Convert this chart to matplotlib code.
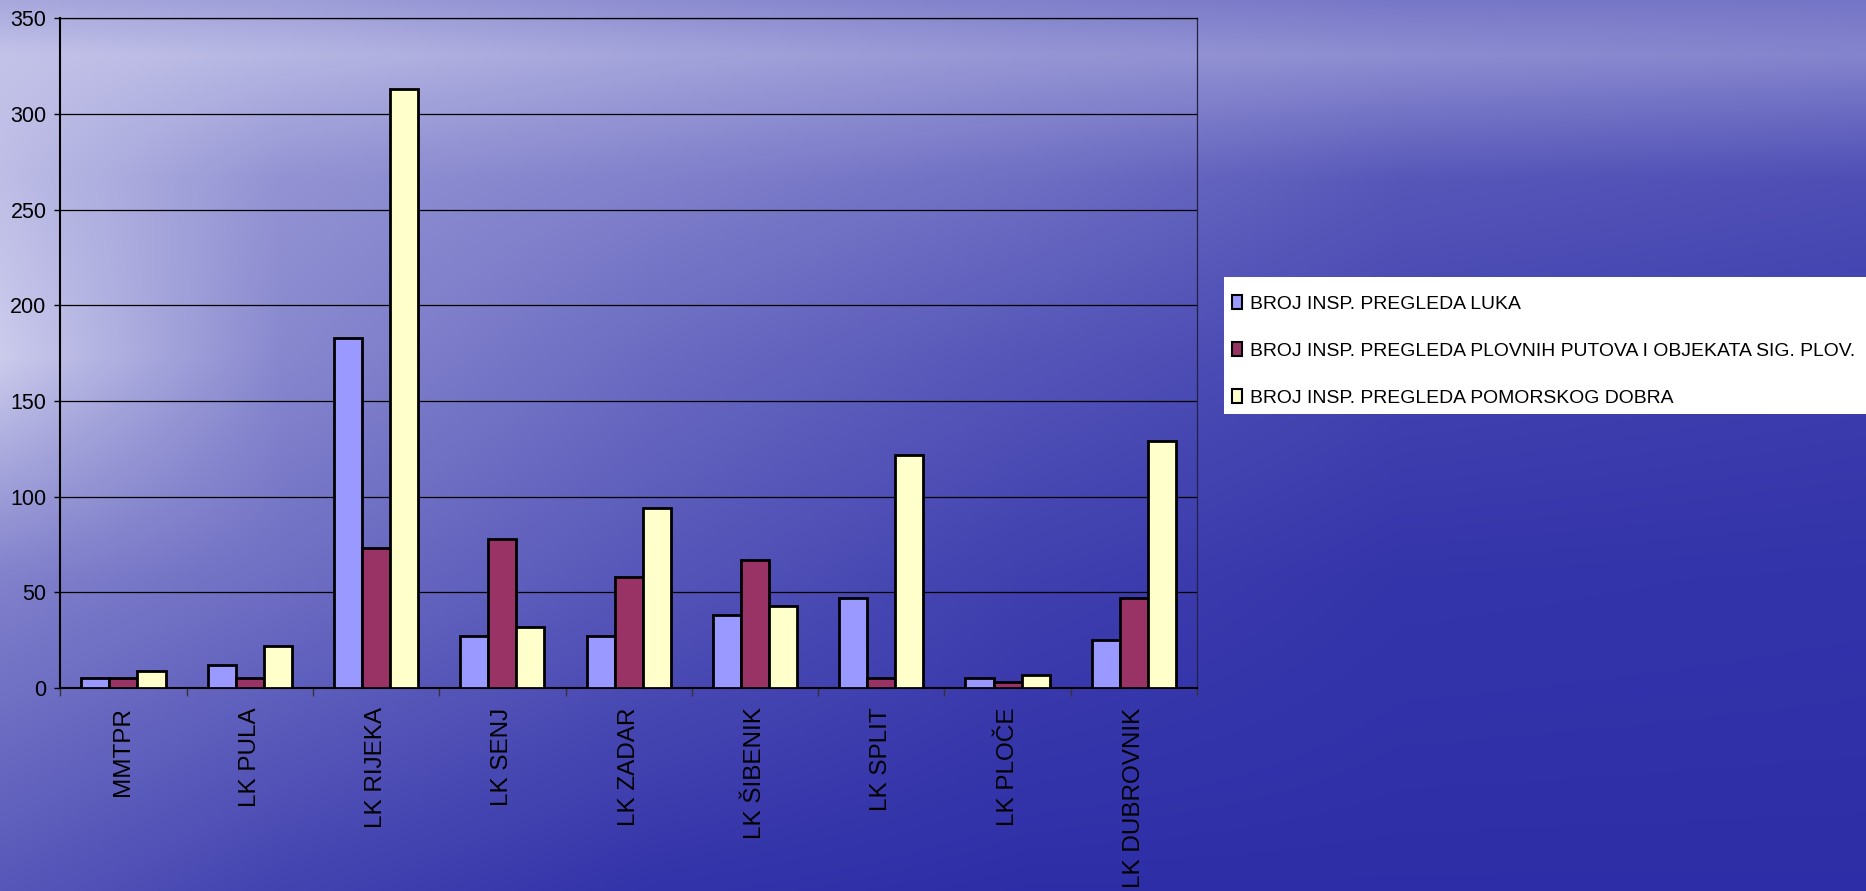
import numpy as np
import matplotlib
matplotlib.use("Agg")
import matplotlib.pyplot as plt
from matplotlib.patches import Patch, Rectangle

categories = ["MMTPR", "LK PULA", "LK RIJEKA", "LK SENJ", "LK ZADAR",
              "LK ŠIBENIK", "LK SPLIT", "LK PLOČE", "LK DUBROVNIK"]
series_names = ["BROJ INSP. PREGLEDA LUKA",
                "BROJ INSP. PREGLEDA PLOVNIH PUTOVA I OBJEKATA SIG. PLOV.",
                "BROJ INSP. PREGLEDA POMORSKOG DOBRA"]
luka = [5, 12, 183, 27, 27, 38, 47, 5, 25]
plovni_putovi = [5, 5, 73, 78, 58, 67, 5, 3, 47]
pomorsko_dobro = [9, 22, 313, 32, 94, 43, 122, 7, 129]
y_ticks = [0, 50, 100, 150, 200, 250, 300, 350]

colors = ["#9999ff", "#993366", "#ffffcc"]
font = ["Liberation Sans", "DejaVu Sans"]

W, H = 1866, 891
fig = plt.figure(figsize=(W / 100, H / 100), dpi=100)

# background: sea-like gradient, light at the top-left, deep blue bottom-right
bg = fig.add_axes([0, 0, 1, 1], zorder=-10)
gu = np.array([0, 0.15, 0.35, 0.55, 0.75, 1.0])
gv = np.array([0, 0.06, 0.2, 0.4, 0.65, 1.0])
gw = np.array([
    [0.70, 0.65, 0.55, 0.48, 0.43, 0.42],
    [0.85, 0.78, 0.68, 0.60, 0.55, 0.50],
    [0.82, 0.58, 0.48, 0.38, 0.25, 0.20],
    [0.90, 0.52, 0.36, 0.24, 0.14, 0.11],
    [0.48, 0.38, 0.24, 0.12, 0.06, 0.05],
    [0.25, 0.14, 0.05, 0.02, 0.02, 0.02],
])
ny, nx = 300, 630
uu = np.linspace(0, 1, nx)
vv = np.linspace(0, 1, ny)
rows = np.array([np.interp(uu, gu, r) for r in gw])
wt = np.array([np.interp(vv, gv, rows[:, j]) for j in range(nx)]).T
D = np.array([0.165, 0.165, 0.65])
L = np.array([0.87, 0.87, 0.96])
img = D[None, None, :] + (L - D)[None, None, :] * wt[..., None]
bg.imshow(img, aspect="auto", extent=[0, 1, 1, 0], interpolation="bicubic")
bg.set_xlim(0, 1)
bg.set_ylim(1, 0)
bg.axis("off")

# main axes
x0, x1 = 60.3, 1197
y_top, y_bot = 18.3, 688
ax = fig.add_axes([x0 / W, 1 - y_bot / H, (x1 - x0) / W, (y_bot - y_top) / H])
ax.patch.set_alpha(0)

x = np.arange(len(categories))
bw = 0.222
for i, (vals, c) in enumerate(zip([luka, plovni_putovi, pomorsko_dobro], colors)):
    ax.bar(x + (i - 1) * bw, vals, bw, color=c, edgecolor="black",
           linewidth=2, zorder=3)

ax.set_xlim(-0.5, len(categories) - 0.5)
ax.set_ylim(0, 350)
ax.set_yticks(y_ticks)
ax.yaxis.grid(True, color="black", linewidth=0.9)
ax.set_axisbelow(True)

for s in ["left", "bottom"]:
    ax.spines[s].set_color("black")
    ax.spines[s].set_linewidth(1.5)
ax.spines["top"].set_color("black")
ax.spines["top"].set_linewidth(0.9)
ax.spines["right"].set_color("#222244")
ax.spines["right"].set_linewidth(0.9)

ax.tick_params(axis="y", direction="out", length=4, width=1, pad=6,
               colors="black", labelsize=15.5)
for lab in ax.get_yticklabels():
    lab.set_family(font)

ax.set_xticks(x)
ax.set_xticklabels(categories, rotation=90, ha="center", va="top",
                   fontsize=17.5, family=font)
ax.tick_params(axis="x", which="major", length=0, pad=14)
ax.set_xticks(np.arange(-0.5, len(categories), 1.0), minor=True)
ax.tick_params(axis="x", which="minor", length=6, width=1, direction="out",
               color="#333333")

# white legend panel running off the right edge
fig.patches.append(Rectangle((1224 / W, 1 - 414 / H), (W - 1224 + 10) / W,
                             (414 - 277) / H, transform=fig.transFigure,
                             facecolor="white", edgecolor="none", zorder=1))
handles = [Patch(facecolor=c, edgecolor="black", linewidth=1.5) for c in colors]
leg = fig.legend(handles, series_names, loc="upper left",
                 bbox_to_anchor=(1232 / W, 1 - 295 / H), borderaxespad=0,
                 frameon=False, prop={"family": font, "size": 13.95},
                 handlelength=0.5, handleheight=0.75, handletextpad=0.45,
                 labelspacing=1.5, borderpad=0)
leg.set_zorder(2)

fig.savefig("out.png", dpi=100)
